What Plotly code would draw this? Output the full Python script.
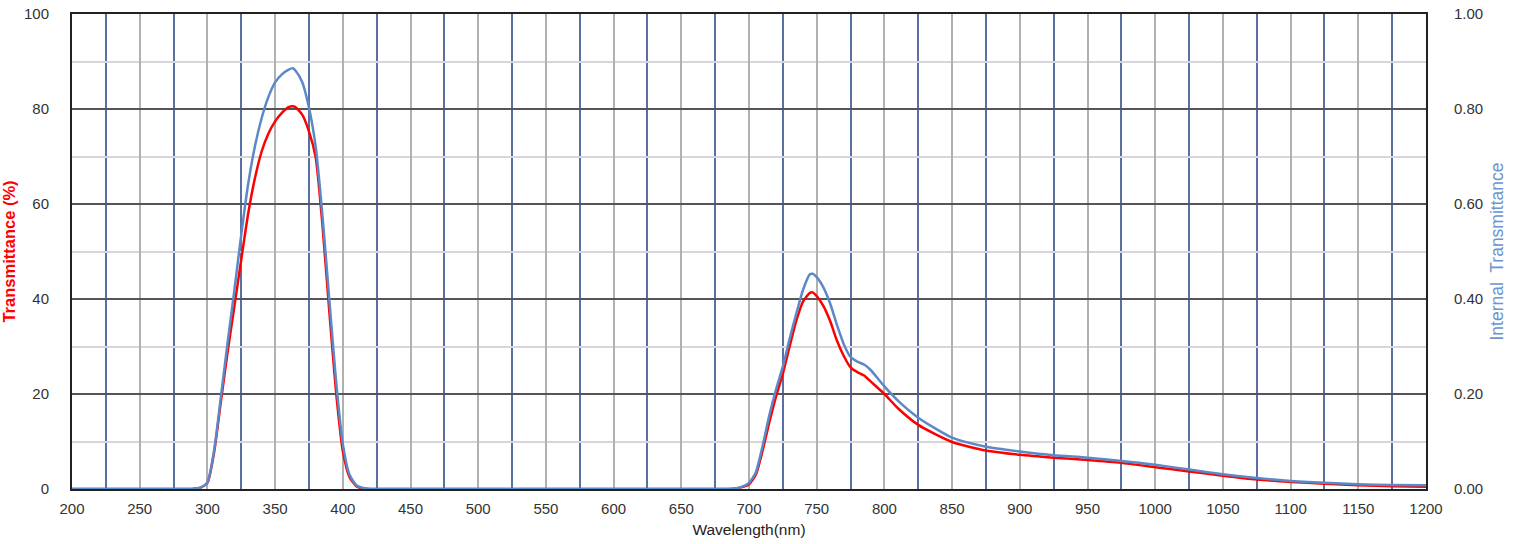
import plotly.graph_objects as go

# wavelength samples (nm)
wavelength = [200, 250, 270, 280, 285, 290, 295, 300, 305, 310, 315, 320, 325, 330, 335, 340, 345,
              350, 355, 360, 363, 365, 370, 375, 380, 385, 390, 395, 400, 405, 410,
              415, 420, 430, 450, 500, 600, 650, 670, 680, 685, 690, 695, 700, 705, 710, 715, 720,
              725, 730, 735, 740, 745, 747, 750, 755, 760, 765, 770, 775, 780, 785,
              790, 800, 810, 825, 850, 875, 900, 925, 950, 975, 1000, 1025, 1050,
              1075, 1100, 1125, 1150, 1175, 1200]

# transmittance in %
transmittance = [0, 0, 0, 0, 0, 0.05, 0.3, 1.3, 7.8, 18.5, 29, 38.6, 48.3, 57.8, 65.3, 71, 74.8,
                 77.4, 79.2, 80.4, 80.6, 80.4, 78.8, 75.3, 69.8, 55.5, 37.5, 20.5, 8, 2.5, 0.6,
                 0.1, 0, 0, 0, 0, 0, 0, 0, 0, 0, 0.1, 0.4, 1, 3, 8, 14, 19.5,
                 24.3, 30, 35.5, 39.5, 41.3, 41.4, 40.6, 38.5, 35.3, 31.2, 28, 25.6, 24.6, 23.9,
                 22.6, 20, 17, 13.5, 9.9, 8.1, 7.2, 6.6, 6.1, 5.5, 4.6, 3.7, 2.8,
                 2.0, 1.5, 1.1, 0.8, 0.6, 0.5]

# internal transmittance (fraction)
internal = [0, 0, 0, 0, 0, 0.0005, 0.003, 0.014, 0.082, 0.195, 0.31, 0.42, 0.535, 0.64, 0.72, 0.78, 0.825,
            0.856, 0.873, 0.883, 0.886, 0.881, 0.857, 0.803, 0.72, 0.575, 0.40, 0.228, 0.095, 0.03, 0.008,
            0.002, 0, 0, 0, 0, 0, 0, 0, 0, 0, 0.001, 0.005, 0.013, 0.035, 0.09, 0.155, 0.21,
            0.258, 0.316, 0.37, 0.42, 0.452, 0.453, 0.446, 0.424, 0.39, 0.345, 0.305, 0.278, 0.268, 0.262,
            0.25, 0.216, 0.186, 0.15, 0.108, 0.089, 0.079, 0.071, 0.066, 0.059, 0.051, 0.041, 0.031,
            0.023, 0.017, 0.013, 0.010, 0.0085, 0.008]

fig = go.Figure()
fig.add_trace(go.Scatter(x=wavelength, y=transmittance, mode="lines",
                         line=dict(color="#ff0000", width=2.5, shape="spline", smoothing=0.6),
                         name="Transmittance"))
fig.add_trace(go.Scatter(x=wavelength, y=internal, mode="lines", yaxis="y2",
                         line=dict(color="#5b89c8", width=2.5, shape="spline", smoothing=0.6),
                         name="Internal Transmittance"))

tickfont = dict(family="Arial, Liberation Sans", size=15, color="#333333")

fig.update_layout(
    width=1514, height=544,
    margin=dict(l=72, r=88, t=14, b=55),
    plot_bgcolor="white", paper_bgcolor="white",
    showlegend=False,
    font=dict(family="Arial, Liberation Sans"),
    xaxis=dict(range=[200, 1200], dtick=50, tick0=200, automargin=False,
               showgrid=True, gridcolor="#b0b0b0", gridwidth=1.5,
               minor=dict(dtick=25, tick0=200, showgrid=True, gridcolor="#5a70a3", gridwidth=1.5),
               showline=True, linecolor="#222", linewidth=2, mirror=True,
               ticks="", ticklabelstandoff=5, tickfont=tickfont, zeroline=False,
               ticklabeloverflow="allow",
               title=dict(text="Wavelength(nm)", font=dict(size=15.5, color="#222"), standoff=8)),
    yaxis=dict(range=[0, 100], dtick=20, automargin=False,
               showgrid=True, gridcolor="#555555", gridwidth=1.5,
               minor=dict(dtick=10, showgrid=True, gridcolor="#d6d6d6", gridwidth=1.5),
               showline=True, linecolor="#222", linewidth=2, mirror=True,
               ticks="", ticklabelstandoff=18, tickfont=tickfont, zeroline=False,
               ticklabeloverflow="allow",
               title=dict(text="<b>Transmittance (%)</b>", font=dict(size=16.5, color="#ff0000"), standoff=6)),
    yaxis2=dict(range=[0, 1], dtick=0.2, tickformat=".2f", overlaying="y", side="right",
                automargin=False, showgrid=False, zeroline=False, ticks="",
                ticklabelstandoff=27, tickfont=tickfont, ticklabeloverflow="allow",
                title=dict(text="Internal  Transmittance", font=dict(size=17.5, color="#6b94d0"), standoff=8)),
)

# drop the default page margin so the figure fills the window exactly
fig.write_html("out.html", config={"displayModeBar": False},
               post_script="document.body.style.margin='0';")
